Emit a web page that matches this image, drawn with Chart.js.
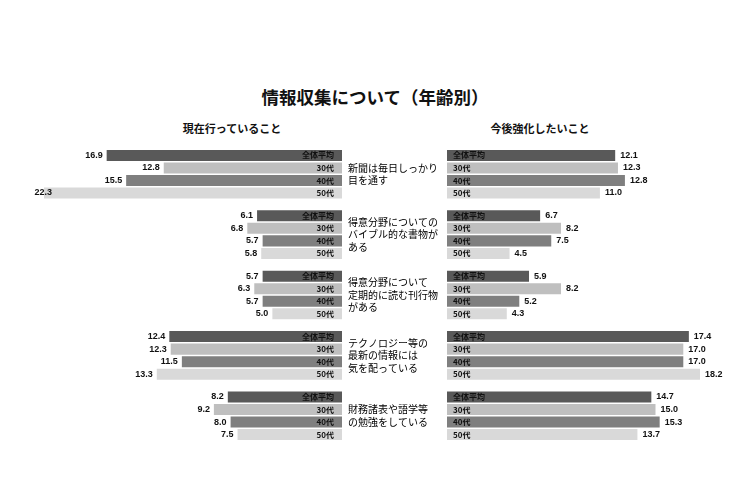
<!DOCTYPE html>
<html lang="ja">
<head>
<meta charset="utf-8">
<script src="https://cdn.jsdelivr.net/npm/chart.js@4.4.1/dist/chart.umd.min.js"></script>
<style>
body { margin: 0; background: #fff; width: 750px; height: 500px; position: relative; overflow: hidden; font-family: "Noto Sans CJK JP", sans-serif; }
#title { position: absolute; left: 0; width: 750px; top: 87px; line-height: 20px; text-align: center; font-size: 17.5px; font-weight: bold; color: #111; }
.sub { position: absolute; top: 121px; width: 110px; line-height: 14px; text-align: center; font-size: 11px; font-weight: bold; color: #111; }
canvas { position: absolute; top: 0; }
</style>
</head>
<body>
<div id="title">情報収集について（年齢別）</div>
<div class="sub" style="left:177px">現在行っていること</div>
<div class="sub" style="left:485px">今後強化したいこと</div>
<canvas id="leftChart" width="345" height="500" style="left:0"></canvas>
<canvas id="rightChart" width="410" height="500" style="left:340px"></canvas>
<script>
const categories = [
    ['新聞は毎日しっかり', '目を通す'],
    ['得意分野についての', 'バイブル的な書物が', 'ある'],
    ['得意分野について', '定期的に読む刊行物', 'がある'],
    ['テクノロジー等の', '最新の情報には', '気を配っている'],
    ['財務諸表や語学等', 'の勉強をしている']
];
const ageGroups = ['全体平均', '30代', '40代', '50代'];
const barColors = ['#595959', '#bfbfbf', '#7f7f7f', '#d9d9d9'];

// 現在行っていること
const nowAll = [16.9, 6.1, 5.7, 12.4, 8.2];
const now30 = [12.8, 6.8, 6.3, 12.3, 9.2];
const now40 = [15.5, 5.7, 5.7, 11.5, 8.0];
const now50 = [22.3, 5.8, 5.0, 13.3, 7.5];

// 今後強化したいこと
const futureAll = [12.1, 6.7, 5.9, 17.4, 14.7];
const future30 = [12.3, 8.2, 8.2, 17.0, 15.0];
const future40 = [12.8, 7.5, 5.2, 17.0, 15.3];
const future50 = [11.0, 4.5, 4.3, 18.2, 13.7];

// values at the bar ends, age group names inside the bars
const barText = {
    id: 'barText',
    afterDatasetsDraw(chart, args, opts) {
        const ctx = chart.ctx;
        const area = chart.chartArea;
        ctx.save();
        ctx.textBaseline = 'middle';
        ctx.fillStyle = '#111';
        chart.data.datasets.forEach((ds, i) => {
            chart.getDatasetMeta(i).data.forEach((bar, j) => {
                const v = ds.data[j].toFixed(1);
                ctx.font = 'bold 9px "Liberation Sans"';
                if (opts.side === 'left') {
                    ctx.textAlign = 'right';
                    ctx.fillText(v, Math.max(bar.x - 4, 52), bar.y);
                    ctx.font = 'bold 8px "Noto Sans CJK JP"';
                    ctx.fillText(ds.label, area.right - 8, bar.y);
                } else {
                    ctx.textAlign = 'left';
                    ctx.fillText(v, bar.x + 5, bar.y);
                    ctx.font = 'bold 8px "Noto Sans CJK JP"';
                    ctx.fillText(ds.label, area.left + 6, bar.y);
                }
            });
        });
        ctx.restore();
    }
};

function makeDatasets(series) {
    return series.map((data, i) => ({
        label: ageGroups[i],
        data: data,
        backgroundColor: barColors[i],
        categoryPercentage: 0.83,
        barPercentage: 0.88,
        clip: 0
    }));
}

new Chart(document.getElementById('leftChart'), {
    type: 'bar',
    data: { labels: categories, datasets: makeDatasets([nowAll, now30, now40, now50]) },
    options: {
        indexAxis: 'y',
        responsive: false,
        animation: false,
        layout: { padding: { left: 44, right: 3, top: 144, bottom: 54 } },
        scales: {
            x: { display: false, reverse: true, min: 0, max: 21.4 },
            y: { display: false }
        },
        plugins: {
            legend: { display: false },
            tooltip: { enabled: false },
            barText: { side: 'left' }
        }
    },
    plugins: [barText]
});

new Chart(document.getElementById('rightChart'), {
    type: 'bar',
    data: { labels: categories, datasets: makeDatasets([futureAll, future30, future40, future50]) },
    options: {
        indexAxis: 'y',
        responsive: false,
        animation: false,
        layout: { padding: { left: 8, right: 25, top: 144, bottom: 54 } },
        scales: {
            x: { display: false, min: 0, max: 20 },
            y: {
                grid: { display: false },
                border: { display: false },
                ticks: {
                    crossAlign: 'far',
                    autoSkip: false,
                    padding: 0,
                    color: '#000',
                    font: { family: '"Noto Sans CJK JP"', size: 10, lineHeight: 1.25 }
                },
                afterFit(scale) { scale.width = 99; }
            }
        },
        plugins: {
            legend: { display: false },
            tooltip: { enabled: false },
            barText: { side: 'right' }
        }
    },
    plugins: [barText]
});
</script>
</body>
</html>
